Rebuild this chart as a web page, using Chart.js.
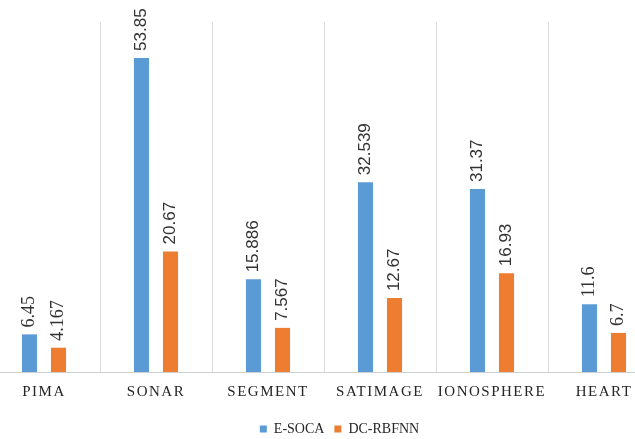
<!DOCTYPE html>
<html>
<head>
<meta charset="utf-8">
<script src="https://cdn.jsdelivr.net/npm/chart.js@4"></script>
<style>
    html, body { margin: 0; padding: 0; background: #fff; overflow: hidden; }
    #wrap { position: absolute; left: -12px; top: 0; width: 703px; height: 446px; }
</style>
</head>
<body>
<div id="wrap"><canvas id="errorChart"></canvas></div>
<script>
// datasets and their values
var datasetNames = ['PIMA', 'SONAR', 'SEGMENT', 'SATIMAGE', 'IONOSPHERE', 'HEART'];
var esocaValues = [6.45, 53.85, 15.886, 32.539, 31.37, 11.6];
var dcrbfnnValues = [4.167, 20.67, 7.567, 12.67, 16.93, 6.7];
var seriesNames = ['E-SOCA', 'DC-RBFNN'];

// these two groups have their value labels set in a serif face
var serifLabelGroups = ['PIMA', 'HEART'];

// spaced-out category labels on the x axis
var spacedTicks = {
    id: 'spacedTicks',
    afterLayout: function (chart) {
        var x = chart.scales.x;
        if (x._spaced) return;
        var draw = x.drawLabels;
        x.drawLabels = function (area) {
            var ctx = chart.ctx;
            ctx.save();
            ctx.letterSpacing = '1.5px';
            draw.call(x, area);
            ctx.restore();
        };
        x._spaced = true;
    }
};

// rotated value labels above each bar
var barValues = {
    id: 'barValues',
    afterDatasetsDraw: function (chart) {
        var ctx = chart.ctx;
        chart.data.datasets.forEach(function (ds, di) {
            chart.getDatasetMeta(di).data.forEach(function (bar, i) {
                var serif = serifLabelGroups.indexOf(datasetNames[i]) >= 0;
                ctx.save();
                ctx.translate(bar.x, bar.y - 7);
                ctx.rotate(-Math.PI / 2);
                ctx.font = serif ? '18px "Liberation Serif", serif' : '17px "Liberation Sans", sans-serif';
                ctx.fillStyle = '#333333';
                ctx.textAlign = 'left';
                ctx.textBaseline = 'middle';
                ctx.fillText(String(ds.data[i]), 0, 0);
                ctx.restore();
            });
        });
    }
};

var canvas = document.getElementById('errorChart');

new Chart(canvas.getContext('2d'), {
    type: 'bar',
    data: {
        labels: datasetNames,
        datasets: [
            {
                label: seriesNames[0],
                data: esocaValues,
                backgroundColor: '#5B9BD5',
                categoryPercentage: 0.518,
                barPercentage: 0.52
            },
            {
                label: seriesNames[1],
                data: dcrbfnnValues,
                backgroundColor: '#ED7D31',
                categoryPercentage: 0.518,
                barPercentage: 0.52
            }
        ]
    },
    options: {
        responsive: true,
        maintainAspectRatio: false,
        animation: false,
        layout: {
            padding: { top: 22, left: 0, right: 0, bottom: 0 }
        },
        scales: {
            x: {
                grid: {
                    color: '#d9d9d9',
                    lineWidth: 1,
                    drawTicks: false
                },
                border: { color: '#d0d0d0' },
                ticks: {
                    color: '#262626',
                    padding: 11,
                    font: { family: '"Liberation Serif", serif', size: 15 }
                },
                afterFit: function (scale) {
                    scale.height = 40;
                }
            },
            y: {
                position: 'right',
                min: 0,
                max: 60,
                grid: { display: false },
                border: { display: false },
                ticks: { display: false },
                afterFit: function (scale) {
                    scale.width = 31;
                }
            }
        },
        plugins: {
            legend: {
                position: 'bottom',
                labels: {
                    boxWidth: 7,
                    boxHeight: 7,
                    padding: 10,
                    color: '#262626',
                    font: { family: '"Liberation Serif", serif', size: 14 }
                }
            },
            tooltip: { enabled: false }
        }
    },
    plugins: [spacedTicks, barValues]
});
</script>
</body>
</html>
